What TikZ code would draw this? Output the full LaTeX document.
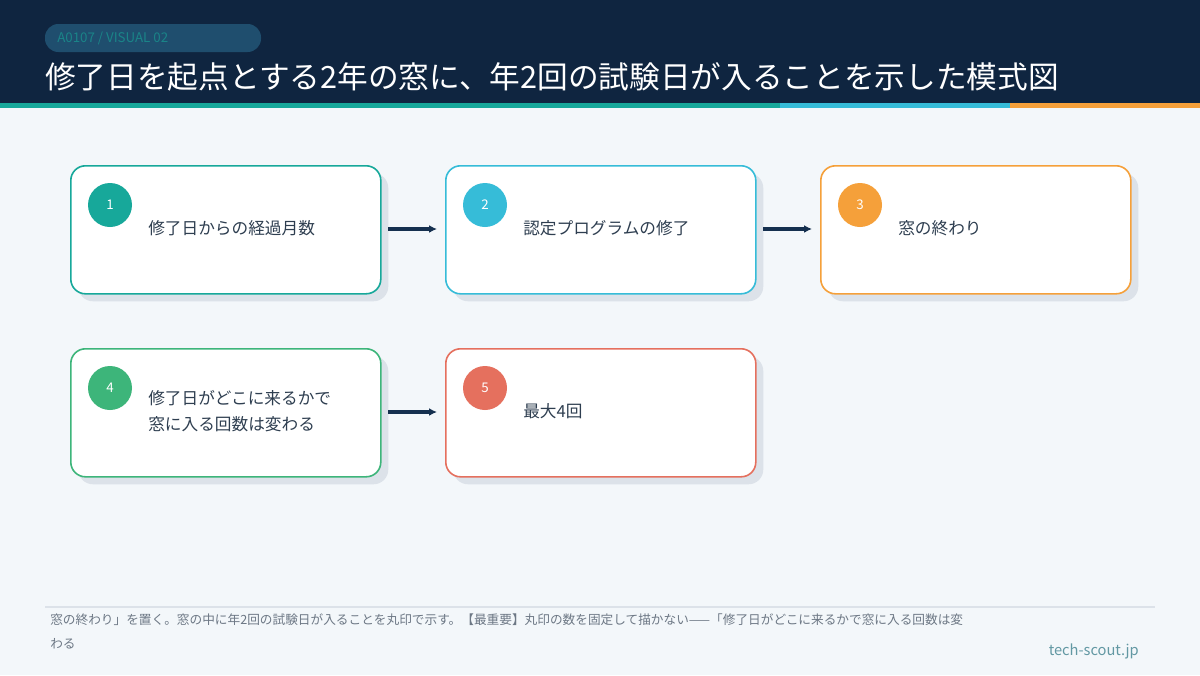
\documentclass[tikz,border=0pt]{standalone}
\usepackage{fontspec}
\setmainfont{Noto Sans CJK JP}
\begin{document}
\begin{tikzpicture}[x=0.75pt,y=-0.75pt,
  card/.style={draw=#1,line width=1.2pt,fill=white,rounded corners=11pt,minimum width=232.5pt,minimum height=96pt,anchor=north west,inner sep=0},
  shadow/.style={fill=shadowc,rounded corners=11pt,minimum width=232.5pt,minimum height=96pt,anchor=north west,inner sep=0},
  num/.style={circle,fill=#1,minimum size=33pt,inner sep=0,text=white,font=\fontsize{10}{12}\selectfont},
  lbl/.style={anchor=west,align=left,inner sep=0,text=textc,font=\fontsize{12.5}{20}\selectfont},
  arr/.style={draw=navy,line width=2.6pt,-{Latex[length=6pt,width=6pt]}}]
\usetikzlibrary{arrows.meta}
\definecolor{navy}{HTML}{15304F}
\definecolor{hdr}{HTML}{0F2540}
\definecolor{pill}{HTML}{1F4E6E}
\definecolor{bg}{HTML}{F3F7FA}
\definecolor{shadowc}{HTML}{DCE2E9}
\definecolor{textc}{HTML}{2E3E50}
\definecolor{cteal}{HTML}{17A89A}
\definecolor{cblue}{HTML}{36BCD8}
\definecolor{corange}{HTML}{F5A03A}
\definecolor{cgreen}{HTML}{3DB57A}
\definecolor{cred}{HTML}{E5705E}
\fill[bg] (0,0) rectangle (1200,675);
\useasboundingbox (0,0) rectangle (1200,675);
\fill[hdr] (0,0) rectangle (1200,103);
\fill[cteal] (0,103) rectangle (780,108);
\fill[cblue] (780,103) rectangle (1010,108);
\fill[corange] (1010,103) rectangle (1200,108);
\fill[pill,rounded corners=10pt] (45,24) rectangle (261,52);
\node[anchor=west,text=cteal!60!pill,font=\fontsize{10}{12}\selectfont,inner sep=0] (tag) at (57,38) {A0107 / VISUAL 02};
\node[anchor=west,text=white,font=\fontsize{23}{28}\selectfont,inner sep=0] (title) at (45,77) {修了日を起点とする2年の窓に、年2回の試験日が入ることを示した模式図};
\foreach \x/\y in {70/165,445/165,820/165,70/348,445/348}
  \node[shadow] at (\x+8,\y+8) {};
\node[card=cteal] (c1) at (70,165) {};
\node[card=cblue] (c2) at (445,165) {};
\node[card=corange] (c3) at (820,165) {};
\node[card=cgreen] (c4) at (70,348) {};
\node[card=cred] (c5) at (445,348) {};
\node[num=cteal] (n1) at (110,205) {1};
\node[num=cblue] (n2) at (485,205) {2};
\node[num=corange] (n3) at (860,205) {3};
\node[num=cgreen] (n4) at (110,388) {4};
\node[num=cred] (n5) at (485,388) {5};
\node[lbl] (t1) at (148,228) {修了日からの経過月数};
\node[lbl] (t2) at (523,228) {認定プログラムの修了};
\node[lbl] (t3) at (898,228) {窓の終わり};
\node[lbl] (t4) at (148,411) {修了日がどこに来るかで\\窓に入る回数は変わる};
\node[lbl] (t5) at (523,411) {最大4回};
\coordinate (a1s) at (388,229); \coordinate (a1e) at (437,229);
\coordinate (a2s) at (763,229); \coordinate (a2e) at (812,229);
\coordinate (a3s) at (388,412); \coordinate (a3e) at (437,412);
\draw[arr] (a1s) -- (a1e);
\draw[arr] (a2s) -- (a2e);
\draw[arr] (a3s) -- (a3e);
\draw[draw=shadowc,line width=1.5pt] (45,607) -- (1155,607);
\node[anchor=north west,text=textc!70,font=\fontsize{9.5}{18}\selectfont,align=left,inner sep=0] (foot) at (50,614) {窓の終わり」を置く。窓の中に年2回の試験日が入ることを丸印で示す。【最重要】丸印の数を固定して描かない——「修了日がどこに来るかで窓に入る回数は変\\わる};
\node[anchor=east,text=cblue!40!gray,font=\fontsize{11}{13}\selectfont,inner sep=0] (site) at (1139,651) {tech-scout.jp};
\end{tikzpicture}
\end{document}
